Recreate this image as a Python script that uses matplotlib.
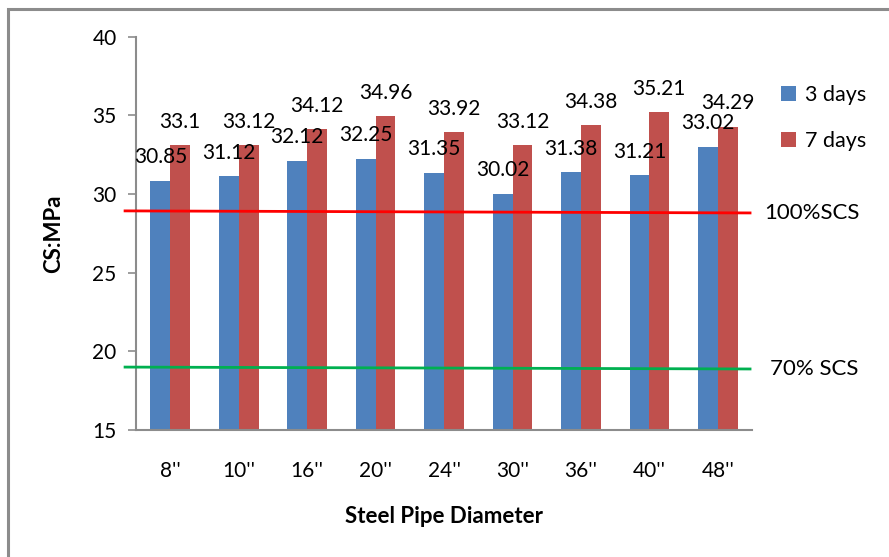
import matplotlib.pyplot as plt
import matplotlib.patches as patches
import numpy as np

plt.rcParams["font.family"] = ["Lato", "DejaVu Sans"]

# data
diameters = ["8''", "10''", "16''", "20''", "24''", "30''", "36''", "40''", "48''"]
cs_3days = [30.85, 31.12, 32.12, 32.25, 31.35, 30.02, 31.38, 31.21, 33.02]
cs_7days = [33.1, 33.12, 34.12, 34.96, 33.92, 33.12, 34.38, 35.21, 34.29]
scs_100 = [28.93, 28.80]
scs_70 = [19.0, 18.88]

blue = "#4F81BD"
red = "#C0504D"

fig = plt.figure(figsize=(8.89, 5.57), dpi=100)
ax = fig.add_axes([0.153, 0.228, 0.693, 0.706])

# border of the chart area (only top/left visible in the crop)
fig.patches.append(
    patches.Rectangle((8 / 889, -0.1), 1.2, (557 - 9) / 557 + 0.1,
                      transform=fig.transFigure, fill=False,
                      edgecolor="#8c8c8c", linewidth=2.2)
)

x = np.arange(len(diameters))
w = 0.29
b1 = ax.bar(x - w / 2, cs_3days, w, color=blue, label="3 days", zorder=2)
b2 = ax.bar(x + w / 2, cs_7days, w, color=red, label="7 days", zorder=2)

for bars, vals in [(b1, cs_3days), (b2, cs_7days)]:
    for rect, v in zip(bars, vals):
        ax.annotate(f"{v:g}", (rect.get_x() + rect.get_width() / 2, v),
                    xytext=(0, 12.5), textcoords="offset points",
                    ha="center", va="baseline", fontsize=15, zorder=4)

ax.plot([-0.66, 8.47], scs_100, color="#FF0000", linewidth=2, clip_on=False, zorder=3)
ax.plot([-0.66, 8.47], scs_70, color="#00B050", linewidth=2, clip_on=False, zorder=3)
fig.text(764 / 889, 1 - 213 / 557, "100%SCS", fontsize=16, va="center", ha="left")
fig.text(770 / 889, 1 - 369 / 557, "70% SCS", fontsize=16, va="center", ha="left")

ax.set_xlim(-0.5, len(diameters) - 0.5)
ax.set_ylim(15, 40)
ax.set_yticks([15, 20, 25, 30, 35, 40])
ax.set_xticks(x)
ax.set_xticklabels(diameters)
ax.tick_params(axis="y", length=6, color="#8c8c8c", width=1.2, labelsize=15, pad=8)
ax.tick_params(axis="x", length=0, labelsize=15, pad=22)
for s in ["top", "right"]:
    ax.spines[s].set_visible(False)
for s in ["left", "bottom"]:
    ax.spines[s].set_color("#8c8c8c")
    ax.spines[s].set_linewidth(1.5)

ax.set_xlabel("Steel Pipe Diameter", fontsize=16, fontweight="bold", labelpad=18)
ax.set_ylabel("CS:MPa", fontsize=16, fontweight="bold", labelpad=20)

ax.legend(loc="upper left", bbox_to_anchor=(762 / 889, 1 - 66 / 557),
          bbox_transform=fig.transFigure, frameon=False, fontsize=15.5,
          handlelength=0.7, handleheight=0.7, handletextpad=0.4, labelspacing=1.2)

fig.savefig("out.png", dpi=100)
